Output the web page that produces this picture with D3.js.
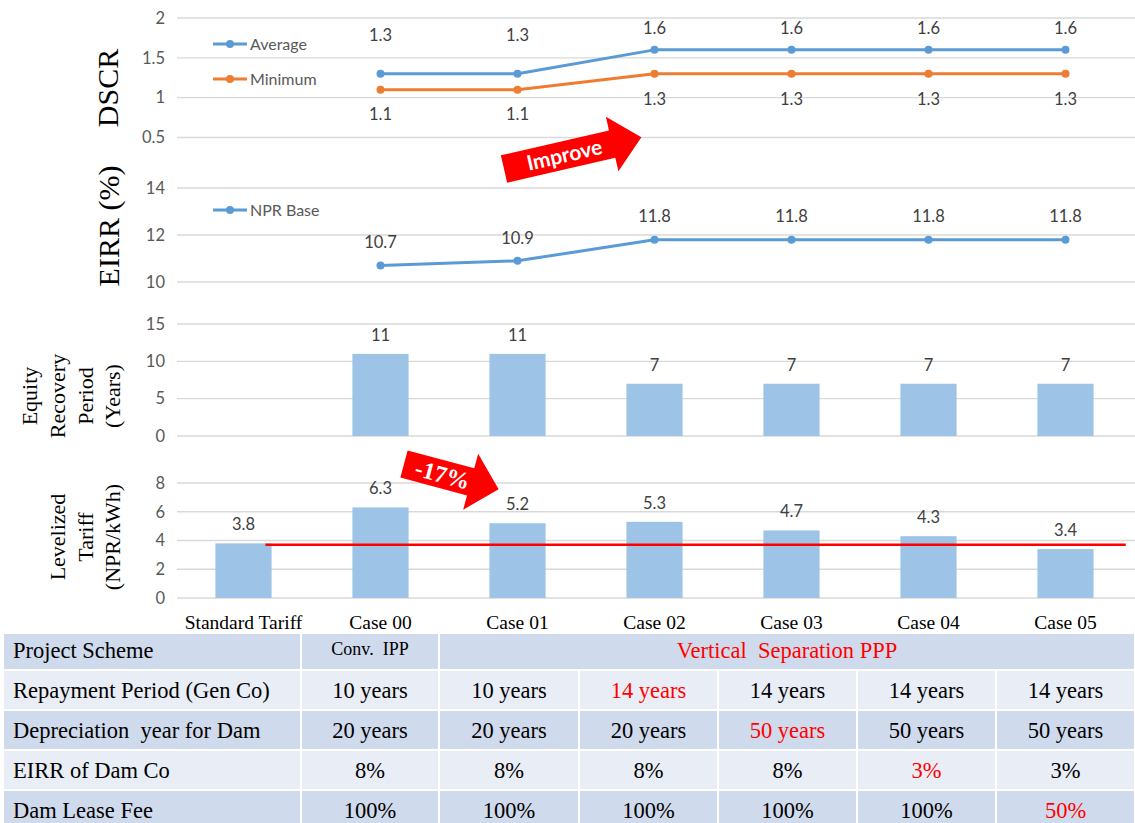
<!DOCTYPE html>
<html>
<head>
<meta charset="utf-8">
<script src="https://cdn.jsdelivr.net/npm/d3@7"></script>
<style>
  html, body { margin: 0; padding: 0; background: #ffffff; }
  svg { display: block; }
</style>
</head>
<body>
<svg id="chart" width="1135" height="823"></svg>
<script>
// ---- data ----
const categories = ["Standard Tariff", "Case 00", "Case 01", "Case 02", "Case 03", "Case 04", "Case 05"];
const caseNames = ["Case 00", "Case 01", "Case 02", "Case 03", "Case 04", "Case 05"];

const dscrAverage = [1.3, 1.3, 1.6, 1.6, 1.6, 1.6];
const dscrMinimum = [1.1, 1.1, 1.3, 1.3, 1.3, 1.3];
const dscrTicks = [0.5, 1, 1.5, 2];

const eirrNprBase = [10.7, 10.9, 11.8, 11.8, 11.8, 11.8];
const eirrTicks = [10, 12, 14];

const equityRecovery = [11, 11, 7, 7, 7, 7];
const equityTicks = [0, 5, 10, 15];

const tariffCategories = categories;
const levelizedTariff = [3.8, 6.3, 5.2, 5.3, 4.7, 4.3, 3.4];
const tariffTicks = [0, 2, 4, 6, 8];
const standardTariffLine = 3.7;

const tableRowLabels = ["Project Scheme", "Repayment Period (Gen Co)", "Depreciation  year for Dam", "EIRR of Dam Co", "Dam Lease Fee"];
const projectScheme = ["Conv.  IPP", "Vertical  Separation PPP"];
const repaymentPeriod = ["10 years", "10 years", "14 years", "14 years", "14 years", "14 years"];
const depreciationYear = ["20 years", "20 years", "20 years", "50 years", "50 years", "50 years"];
const damEirr = ["8%", "8%", "8%", "8%", "3%", "3%"];
const damLeaseFee = ["100%", "100%", "100%", "100%", "100%", "50%"];

// ---- setup ----
const svg = d3.select("#chart");
const tickFont = "Lato, 'Open Sans', sans-serif";
const serif = "'Liberation Serif', 'Times New Roman', serif";
const blue = "#5b9bd5", orange = "#ed7d31", barFill = "#9dc3e6";
const gridColor = "#d9d9d9", tickColor = "#595959", labelColor = "#404040";

const x = d3.scaleBand().domain(categories).range([175, 1134]).padding(0);
const cx = d => x(d) + x.bandwidth() / 2;
const barW = x.bandwidth() * 0.41;
const gridX0 = 177, gridX1 = 1135;

function drawAxis(y, ticks) {
  const g = svg.append("g");
  g.selectAll("line.grid").data(ticks).join("line")
    .attr("x1", gridX0).attr("x2", gridX1)
    .attr("y1", d => y(d)).attr("y2", d => y(d))
    .attr("stroke", gridColor).attr("stroke-width", 1.3);
  g.selectAll("text").data(ticks).join("text")
    .attr("x", 165).attr("y", d => y(d))
    .attr("dy", "0.35em").attr("text-anchor", "end")
    .attr("font-family", tickFont).attr("font-size", 16.5)
    .attr("fill", tickColor)
    .text(d => d);
}

function drawLine(y, values, color, labelDy) {
  const g = svg.append("g");
  const pts = values.map((v, i) => [cx(caseNames[i]), y(v), v]);
  g.append("path")
    .attr("d", d3.line()(pts.map(p => [p[0], p[1]])))
    .attr("fill", "none").attr("stroke", color).attr("stroke-width", 3)
    .attr("stroke-linejoin", "round");
  g.selectAll("circle").data(pts).join("circle")
    .attr("cx", p => p[0]).attr("cy", p => p[1]).attr("r", 4)
    .attr("fill", color);
  g.selectAll("text").data(pts).join("text")
    .attr("x", p => p[0]).attr("y", (p, i) => p[1] + labelDy(p[2], i))
    .attr("dy", "0.35em").attr("text-anchor", "middle")
    .attr("font-family", tickFont).attr("font-size", 16.5)
    .attr("fill", labelColor)
    .text(p => p[2]);
}

function legendItem(xPos, yPos, color, label) {
  const g = svg.append("g");
  g.append("line").attr("x1", xPos).attr("x2", xPos + 34)
    .attr("y1", yPos).attr("y2", yPos)
    .attr("stroke", color).attr("stroke-width", 3);
  g.append("circle").attr("cx", xPos + 17).attr("cy", yPos).attr("r", 4).attr("fill", color);
  g.append("text").attr("x", xPos + 37).attr("y", yPos).attr("dy", "0.35em")
    .attr("font-family", tickFont).attr("font-size", 16).attr("fill", tickColor)
    .text(label);
}

function axisTitle(lines, xCenter, yCenter, size, lineGap) {
  const n = lines.length;
  lines.forEach((t, i) => {
    const xx = xCenter + (i - (n - 1) / 2) * lineGap;
    svg.append("text")
      .attr("transform", `translate(${xx},${yCenter}) rotate(-90)`)
      .attr("text-anchor", "middle").attr("dy", "0.35em")
      .attr("font-family", serif).attr("font-size", size).attr("fill", "#000")
      .text(t);
  });
}

function drawBars(y, cats, values) {
  const g = svg.append("g");
  g.selectAll("rect").data(values).join("rect")
    .attr("x", (v, i) => cx(cats[i]) - barW / 2)
    .attr("width", barW)
    .attr("y", v => y(v))
    .attr("height", v => y(0) - y(v))
    .attr("fill", barFill);
  g.selectAll("text").data(values).join("text")
    .attr("x", (v, i) => cx(cats[i])).attr("y", v => y(v) - 19)
    .attr("dy", "0.35em").attr("text-anchor", "middle")
    .attr("font-family", tickFont).attr("font-size", 16.5)
    .attr("fill", labelColor)
    .text(v => v);
}

function blockArrow(x0, y0, angle, len, headLen, bodyHalf, headHalf, label, labelX, font, fontSize) {
  const g = svg.append("g").attr("transform", `translate(${x0},${y0}) rotate(${angle})`);
  const b = len - headLen;
  g.append("path")
    .attr("d", `M0,${-bodyHalf} L${b},${-bodyHalf} L${b},${-headHalf} L${len},0 L${b},${headHalf} L${b},${bodyHalf} L0,${bodyHalf} Z`)
    .attr("fill", "#ff0000");
  g.append("text").attr("x", labelX).attr("y", 0).attr("dy", "0.35em")
    .attr("text-anchor", "middle").attr("font-family", font)
    .attr("font-size", fontSize).attr("font-weight", "bold").attr("fill", "#fff")
    .text(label);
}

// ---- DSCR panel ----
const yDscr = d3.scaleLinear().domain([0.5, 2]).range([137.5, 18]);
drawAxis(yDscr, dscrTicks);
drawLine(yDscr, dscrAverage, blue, v => (v < 1.5 ? -39 : -22));
drawLine(yDscr, dscrMinimum, orange, () => 25);
legendItem(213, 44, blue, "Average");
legendItem(213, 79, orange, "Minimum");
axisTitle(["DSCR"], 107, 88, 30, 0);

// ---- EIRR panel ----
const yEirr = d3.scaleLinear().domain([10, 14]).range([282, 188]);
drawAxis(yEirr, eirrTicks);
drawLine(yEirr, eirrNprBase, blue, () => -23);
legendItem(213, 210, blue, "NPR Base");
axisTitle(["EIRR (%)"], 108, 226, 30, 0);

// ---- Equity recovery panel ----
const yEq = d3.scaleLinear().domain([0, 15]).range([436, 324]);
drawAxis(yEq, equityTicks);
drawBars(yEq, caseNames, equityRecovery);
axisTitle(["Equity", "Recovery", "Period", "(Years)"], 71, 396, 22, 27.7);

// ---- Levelized tariff panel ----
const yTar = d3.scaleLinear().domain([0, 8]).range([598, 483]);
drawAxis(yTar, tariffTicks);
drawBars(yTar, tariffCategories, levelizedTariff);
svg.append("line")
  .attr("x1", cx(categories[0]) + x.bandwidth() * 0.16)
  .attr("x2", cx(categories[categories.length - 1]) + x.bandwidth() * 0.44)
  .attr("y1", yTar(standardTariffLine)).attr("y2", yTar(standardTariffLine))
  .attr("stroke", "#ff0000").attr("stroke-width", 2.5);
axisTitle(["Levelized", "Tariff", "(NPR/kWh)"], 85, 537, 22, 27.7);

// category labels
svg.append("g").selectAll("text").data(categories).join("text")
  .attr("x", d => cx(d)).attr("y", 622).attr("dy", "0.35em")
  .attr("text-anchor", "middle").attr("font-family", serif)
  .attr("font-size", 19.5).attr("fill", "#000")
  .text(d => d);

// arrows
blockArrow(504, 169, -13, 141, 30, 14, 28, "Improve", 62, "Lato, sans-serif", 21);
blockArrow(404, 464, 15, 98, 29, 14, 29, "-17%", 40, serif, 24);

// ---- parameter table ----
const colEdges = [3, 301, 439, 579, 718, 857, 996, 1135];
const rowEdges = [633, 670, 710, 750, 790, 830];
const darkFill = "#cfdaec", lightFill = "#e9edf5";
const tg = svg.append("g");
const rowValues = [null, repaymentPeriod, depreciationYear, damEirr, damLeaseFee];
const cellFont = 22.5;

rowValues.forEach((vals, r) => {
  const fill = r % 2 === 0 ? darkFill : lightFill;
  const y0 = rowEdges[r], y1 = rowEdges[r + 1];
  const yMid = (y0 + y1) / 2 - (r === 0 ? 1 : 0);
  let cells;
  if (r === 0) cells = [[0, 1], [1, 2], [2, 7]];
  else cells = d3.range(7).map(c => [c, c + 1]);
  cells.forEach(([a, b]) => {
    tg.append("rect")
      .attr("x", colEdges[a] + 1).attr("y", y0 + 1)
      .attr("width", colEdges[b] - colEdges[a] - 2)
      .attr("height", y1 - y0 - 2)
      .attr("fill", fill);
  });
  tg.append("text").attr("x", 13).attr("y", yMid).attr("dy", "0.35em")
    .attr("font-family", serif).attr("font-size", cellFont).attr("fill", "#000")
    .style("white-space", "pre")
    .text(tableRowLabels[r]);
  if (r === 0) {
    tg.append("text").attr("x", (colEdges[1] + colEdges[2]) / 2).attr("y", yMid - 2)
      .attr("dy", "0.35em").attr("text-anchor", "middle")
      .attr("font-family", serif).attr("font-size", 18).attr("fill", "#000")
      .style("white-space", "pre").text(projectScheme[0]);
    tg.append("text").attr("x", (colEdges[2] + colEdges[7]) / 2).attr("y", yMid)
      .attr("dy", "0.35em").attr("text-anchor", "middle")
      .attr("font-family", serif).attr("font-size", cellFont).attr("fill", "#ff0000")
      .style("white-space", "pre").text(projectScheme[1]);
  } else {
    vals.forEach((v, i) => {
      const changed = i > 0 && v !== vals[i - 1];
      tg.append("text").attr("x", (colEdges[i + 1] + colEdges[i + 2]) / 2).attr("y", yMid)
        .attr("dy", "0.35em").attr("text-anchor", "middle")
        .attr("font-family", serif).attr("font-size", cellFont)
        .attr("fill", changed ? "#ff0000" : "#000")
        .text(v);
    });
  }
});
</script>
</body>
</html>
